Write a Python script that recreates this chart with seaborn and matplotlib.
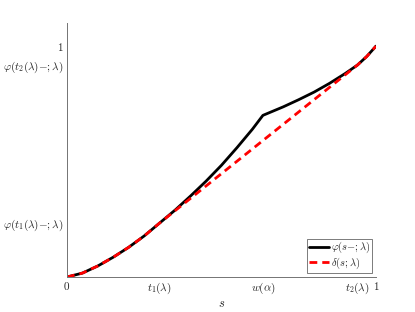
import pandas as pd
import matplotlib
matplotlib.use("Agg")
import matplotlib.pyplot as plt
import seaborn as sns

# values
s_phi = [0, 0.05, 0.1, 0.15, 0.2, 0.25, 0.3, 0.35, 0.4, 0.45, 0.5, 0.55, 0.6,
         0.634, 0.7, 0.75, 0.8, 0.85, 0.9, 0.94, 0.97, 1.0]
phi = [0, 0.017, 0.048, 0.086, 0.129, 0.178, 0.234, 0.290, 0.351, 0.415, 0.484,
       0.560, 0.640, 0.700, 0.737, 0.768, 0.801, 0.839, 0.881, 0.918, 0.955, 1.0]

s_delta = [0, 0.05, 0.1, 0.15, 0.2, 0.25, 0.3, 0.94, 0.97, 1.0]
delta = [0, 0.017, 0.048, 0.086, 0.129, 0.178, 0.234, 0.918, 0.955, 1.0]

xticks = [0, 0.30, 0.634, 0.94, 1.0]
xtick_labels = ['$0$', r'$t_1(\lambda)$', r'$w(\alpha)$', r'$t_2(\lambda)$', '$1$']
yticks = [0.234, 0.918, 1.0]
ytick_labels = [r'$\varphi(t_1(\lambda){-};\lambda)$', r'$\varphi(t_2(\lambda){-};\lambda)$', '$1$']

df_phi = pd.DataFrame({'s': s_phi, 'v': phi})
df_delta = pd.DataFrame({'s': s_delta, 'v': delta})

sns.set_style("white")
plt.rcParams['mathtext.fontset'] = 'cm'
plt.rcParams['font.family'] = ['DejaVu Serif']

fig = plt.figure(figsize=(4.15, 3.12), dpi=100)
ax = fig.add_axes([67 / 415, 1 - 277 / 312, 309 / 415, 254 / 312])

sns.lineplot(data=df_phi, x='s', y='v', ax=ax, color='black', linewidth=2,
             label=r'$\varphi(s{-};\lambda)$')
sns.lineplot(data=df_delta, x='s', y='v', ax=ax, color='red', linewidth=2,
             linestyle=(0, (2.8, 1.8)), label=r'$\delta(s;\lambda)$')

ax.set_xlim(0, 1)
ax.set_ylim(0, 1.1)
ax.set_xticks(xticks)
ax.set_xticklabels(xtick_labels)
ax.set_yticks(yticks)
ax.set_yticklabels(ytick_labels)
ax.set_xlabel('$s$', fontsize=9, labelpad=1)
ax.set_ylabel('')
ax.tick_params(direction='in', length=3, width=0.6, color='0.4', labelsize=8, pad=2.5)

for side in ['top', 'right']:
    ax.spines[side].set_visible(False)
for side in ['left', 'bottom']:
    ax.spines[side].set_color('0.45')
    ax.spines[side].set_linewidth(0.7)

leg = ax.legend(loc='lower right', fontsize=7.5, handlelength=1.9, handletextpad=0.2,
                borderpad=0.15, labelspacing=0.05, borderaxespad=0.4,
                fancybox=False, framealpha=1)
leg.get_frame().set_edgecolor('0.4')
leg.get_frame().set_linewidth(0.6)

fig.savefig('out.png', dpi=100)
